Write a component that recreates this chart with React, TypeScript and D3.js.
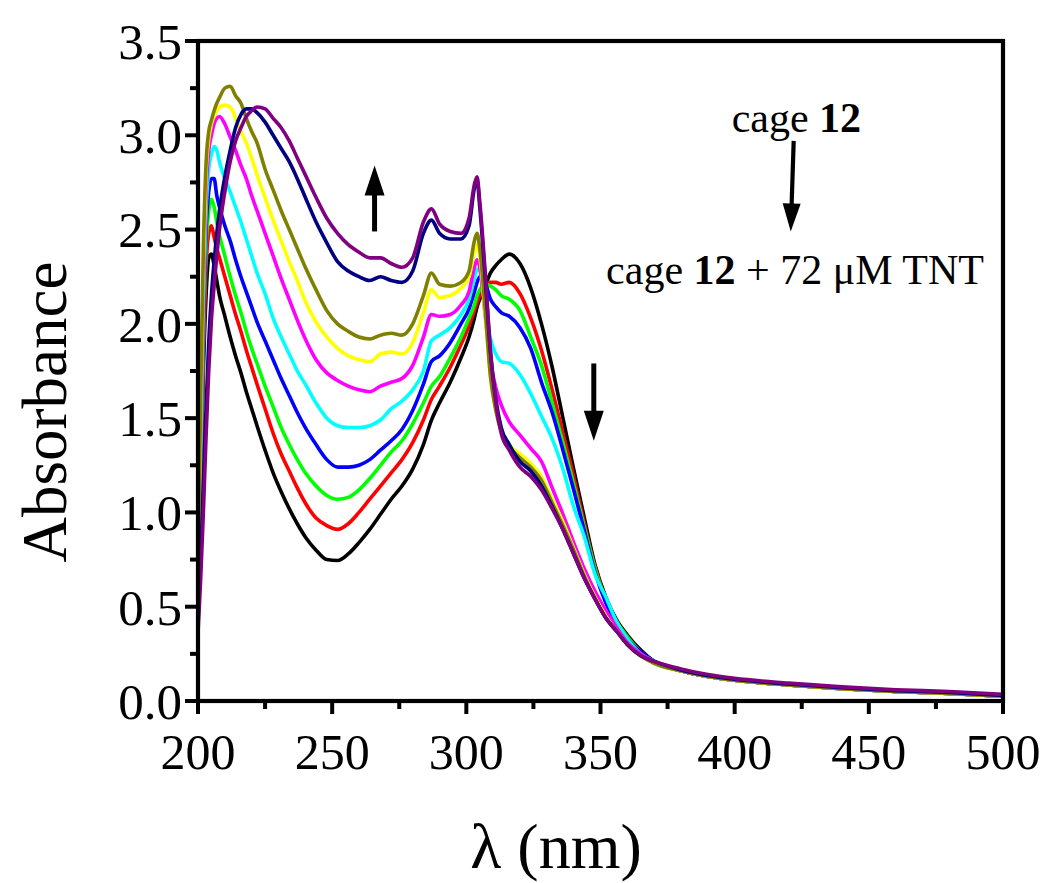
import React from "react";
import * as d3 from "d3";

const wavelengths = [200,201,202,203,204,205,206,207,208,210,212,214,216,218,220,222,225,228,231,234,237,240,244,248,252,256,260,264,268,272,276,280,284,287,290,294,298,301,303,304,305,307,309,311,313,316,320,324,328,332,336,340,344,348,352,356,360,365,370,380,390,400,420,440,460,480,500];

const black = [0.45,1.10,1.75,2.15,2.35,2.37,2.31,2.23,2.15,2.04,1.93,1.83,1.74,1.64,1.55,1.46,1.33,1.21,1.11,1.02,0.94,0.87,0.80,0.75,0.745,0.78,0.84,0.91,0.99,1.07,1.14,1.23,1.36,1.49,1.58,1.69,1.82,1.93,2.03,2.09,2.13,2.20,2.27,2.31,2.34,2.37,2.32,2.19,2.00,1.77,1.50,1.23,0.97,0.72,0.55,0.43,0.35,0.27,0.21,0.16,0.13,0.11,0.085,0.065,0.05,0.04,0.025];
const red = [0.48,1.15,1.85,2.30,2.48,2.52,2.46,2.40,2.35,2.25,2.15,2.05,1.96,1.86,1.77,1.68,1.55,1.42,1.31,1.22,1.13,1.05,0.97,0.93,0.91,0.94,1.00,1.07,1.14,1.21,1.28,1.37,1.49,1.60,1.67,1.77,1.89,1.99,2.07,2.11,2.15,2.20,2.22,2.22,2.21,2.22,2.16,2.03,1.86,1.65,1.42,1.19,0.94,0.71,0.54,0.42,0.34,0.26,0.21,0.16,0.13,0.11,0.085,0.065,0.05,0.04,0.025];
const green = [0.50,1.20,1.95,2.40,2.60,2.66,2.62,2.54,2.47,2.36,2.25,2.15,2.06,1.96,1.87,1.79,1.67,1.56,1.45,1.36,1.28,1.21,1.14,1.09,1.07,1.08,1.12,1.18,1.25,1.32,1.38,1.47,1.58,1.67,1.72,1.82,1.93,2.03,2.10,2.15,2.18,2.21,2.20,2.18,2.15,2.13,2.07,1.93,1.78,1.58,1.37,1.15,0.92,0.70,0.53,0.42,0.34,0.26,0.21,0.16,0.13,0.11,0.085,0.065,0.05,0.04,0.025];
const blue = [0.52,1.25,2.00,2.50,2.70,2.77,2.77,2.68,2.62,2.52,2.44,2.34,2.25,2.17,2.09,2.01,1.91,1.81,1.71,1.62,1.53,1.45,1.36,1.28,1.24,1.24,1.25,1.28,1.33,1.38,1.44,1.54,1.68,1.80,1.83,1.90,2.00,2.08,2.17,2.22,2.25,2.22,2.13,2.09,2.06,2.04,1.98,1.87,1.69,1.53,1.33,1.12,0.90,0.68,0.52,0.41,0.33,0.26,0.21,0.16,0.13,0.11,0.085,0.065,0.05,0.04,0.025];
const cyan = [0.55,1.30,2.10,2.60,2.82,2.90,2.94,2.92,2.86,2.77,2.70,2.62,2.54,2.45,2.36,2.27,2.16,2.03,1.93,1.84,1.75,1.68,1.58,1.50,1.46,1.45,1.45,1.46,1.49,1.55,1.59,1.65,1.75,1.91,1.94,1.98,2.05,2.13,2.24,2.29,2.28,2.10,1.92,1.84,1.80,1.79,1.73,1.63,1.51,1.39,1.23,1.03,0.87,0.67,0.55,0.42,0.33,0.25,0.21,0.16,0.13,0.11,0.085,0.065,0.05,0.04,0.025];
const magenta = [0.58,1.40,2.20,2.70,2.92,3.00,3.06,3.09,3.10,3.06,2.99,2.92,2.84,2.77,2.68,2.60,2.48,2.36,2.24,2.13,2.02,1.92,1.81,1.74,1.70,1.67,1.65,1.64,1.67,1.69,1.71,1.78,1.93,2.05,2.04,2.05,2.10,2.17,2.30,2.34,2.30,2.05,1.80,1.66,1.57,1.48,1.41,1.34,1.27,1.13,0.99,0.84,0.70,0.58,0.48,0.39,0.31,0.25,0.21,0.16,0.13,0.11,0.085,0.065,0.05,0.04,0.025];
const yellow = [0.62,1.50,2.30,2.80,2.98,3.06,3.10,3.13,3.15,3.16,3.15,3.09,3.02,2.96,2.88,2.79,2.67,2.55,2.44,2.33,2.23,2.12,2.01,1.93,1.87,1.83,1.81,1.80,1.84,1.85,1.84,1.90,2.06,2.18,2.14,2.15,2.19,2.25,2.38,2.42,2.36,2.05,1.72,1.55,1.44,1.36,1.31,1.26,1.19,1.07,0.95,0.81,0.67,0.55,0.45,0.37,0.30,0.24,0.20,0.16,0.13,0.11,0.085,0.065,0.05,0.04,0.025];
const olive = [0.70,1.60,2.40,2.85,3.02,3.08,3.13,3.17,3.20,3.25,3.26,3.21,3.17,3.09,3.02,2.96,2.82,2.71,2.60,2.50,2.40,2.30,2.18,2.07,2.00,1.96,1.93,1.92,1.94,1.95,1.94,2.00,2.15,2.27,2.21,2.20,2.22,2.28,2.44,2.48,2.40,2.08,1.72,1.54,1.43,1.35,1.29,1.24,1.17,1.05,0.93,0.80,0.66,0.54,0.44,0.37,0.30,0.24,0.20,0.16,0.13,0.11,0.085,0.065,0.05,0.04,0.025];
const navy = [0.42,0.75,1.15,1.55,1.90,2.15,2.33,2.48,2.60,2.78,2.92,3.04,3.11,3.14,3.14,3.12,3.07,3.00,2.93,2.86,2.77,2.67,2.54,2.43,2.33,2.28,2.25,2.23,2.25,2.23,2.22,2.28,2.48,2.55,2.48,2.45,2.45,2.52,2.72,2.76,2.62,2.25,1.85,1.60,1.45,1.36,1.27,1.22,1.14,1.03,0.91,0.78,0.65,0.54,0.44,0.37,0.30,0.24,0.21,0.165,0.135,0.115,0.09,0.07,0.055,0.045,0.03];
const purple = [0.36,0.65,1.00,1.40,1.75,2.02,2.20,2.36,2.50,2.70,2.86,2.97,3.04,3.10,3.13,3.15,3.14,3.09,3.04,2.97,2.88,2.79,2.67,2.56,2.48,2.42,2.38,2.35,2.35,2.32,2.30,2.35,2.54,2.61,2.53,2.49,2.48,2.56,2.74,2.78,2.65,2.28,1.85,1.58,1.42,1.33,1.24,1.19,1.12,1.02,0.91,0.78,0.65,0.54,0.44,0.37,0.30,0.24,0.21,0.17,0.14,0.12,0.095,0.075,0.06,0.05,0.035];

const seriesList = [black, red, green, blue, cyan, magenta, yellow, olive, navy, purple];
const seriesColors = ["#000000", "#ff0000", "#00ff00", "#0000ff", "#00ffff", "#ff00ff", "#ffff00", "#808000", "#000080", "#800080"];

const xMajor = [200, 250, 300, 350, 400, 450, 500];
const xMinor = [225, 275, 325, 375, 425, 475];
const yMajor = [0, 0.5, 1.0, 1.5, 2.0, 2.5, 3.0, 3.5];
const yMinor = [0.25, 0.75, 1.25, 1.75, 2.25, 2.75, 3.25];

const FONT = "'Liberation Serif', 'Times New Roman', serif";

function Arrow({ x1, y1, x2, y2, head = 30, hw = 10, sw = 5 }: any) {
  const dx = x2 - x1, dy = y2 - y1;
  const len = Math.sqrt(dx * dx + dy * dy);
  const ux = dx / len, uy = dy / len;
  const bx = x2 - ux * head, by = y2 - uy * head;
  const px = -uy, py = ux;
  return (
    <g>
      <line x1={x1} y1={y1} x2={bx + ux * 2} y2={by + uy * 2} stroke="#000" strokeWidth={sw} />
      <polygon points={`${x2},${y2} ${bx + px * hw},${by + py * hw} ${bx - px * hw},${by - py * hw}`} fill="#000" />
    </g>
  );
}

export default function App() {
  const width = 1050, height = 883;
  const x = d3.scaleLinear().domain([200, 500]).range([198, 1003]);
  const y = d3.scaleLinear().domain([0, 3.5]).range([701, 41]);
  const line = d3.line<number>()
    .x((_, i) => x(wavelengths[i]))
    .y((d) => y(d))
    .curve(d3.curveMonotoneX);

  const [x0, x1] = x.range();
  const [yb, yt] = y.range();

  return (
    <svg width={width} height={height} style={{ position: "absolute", left: 0, top: 0, background: "#fff" }} fontFamily={FONT}>
      <defs>
        <clipPath id="plot">
          <rect x={x0} y={yt} width={x1 - x0} height={yb - yt} />
        </clipPath>
      </defs>
      <rect x={0} y={0} width={width} height={height} fill="#fff" />
      <g clipPath="url(#plot)">
        {seriesList.map((s, i) => (
          <path key={i} d={line(s) || ""} fill="none" stroke={seriesColors[i]} strokeWidth={3.6} strokeLinejoin="round" />
        ))}
      </g>
      {/* frame */}
      <rect x={x0} y={yt} width={x1 - x0} height={yb - yt} fill="none" stroke="#000" strokeWidth={4.2} />
      {/* x ticks */}
      {xMajor.map((v) => (
        <g key={"xm" + v}>
          <line x1={x(v)} x2={x(v)} y1={yb} y2={yb + 13} stroke="#000" strokeWidth={4} />
          <text x={x(v)} y={yb + 68} fontSize={50} textAnchor="middle">{v}</text>
        </g>
      ))}
      {xMinor.map((v) => (
        <line key={"xn" + v} x1={x(v)} x2={x(v)} y1={yb} y2={yb + 8} stroke="#000" strokeWidth={4} />
      ))}
      {/* y ticks */}
      {yMajor.map((v) => (
        <g key={"ym" + v}>
          <line x1={x0 - 13} x2={x0} y1={y(v)} y2={y(v)} stroke="#000" strokeWidth={4} />
          <text x={x0 - 16} y={y(v)} dy="0.35em" fontSize={51} textAnchor="end">{v.toFixed(1)}</text>
        </g>
      ))}
      {yMinor.map((v) => (
        <line key={"yn" + v} x1={x0 - 8} x2={x0} y1={y(v)} y2={y(v)} stroke="#000" strokeWidth={4} />
      ))}
      {/* axis titles */}
      <text transform={`translate(66,412) rotate(-90)`} fontSize={63} textAnchor="middle">Absorbance</text>
      <text x={556} y={868} fontSize={64} textAnchor="middle">λ (nm)</text>
      {/* arrows */}
      <Arrow x1={x(265.8)} y1={y(2.49)} x2={x(265.8)} y2={y(2.84)} />
      <Arrow x1={x(347.5)} y1={y(1.79)} x2={x(347.5)} y2={y(1.38)} />
      <Arrow x1={x(422)} y1={y(2.97)} x2={x(420.9)} y2={y(2.49)} head={28} hw={9} sw={4.2} />
      <text x={x(423)} y={y(3.02)} fontSize={42} textAnchor="middle">cage <tspan fontWeight="bold">12</tspan></text>
      <text x={x(422.5)} y={y(2.21)} fontSize={42} textAnchor="middle">cage <tspan fontWeight="bold">12</tspan> + 72 μM TNT</text>
    </svg>
  );
}
